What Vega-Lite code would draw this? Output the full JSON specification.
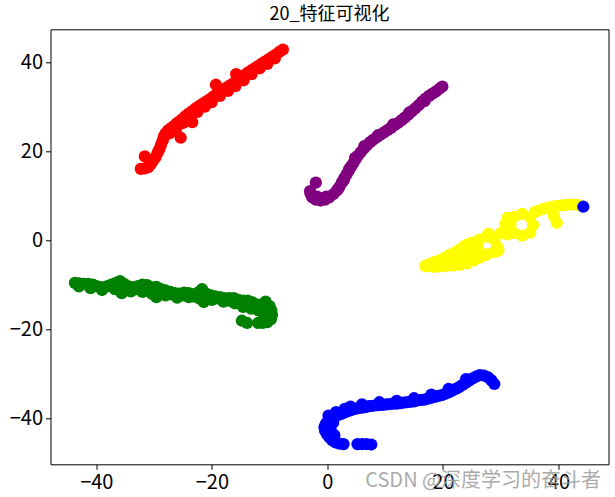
{
"$schema": "https://vega.github.io/schema/vega-lite/v6.json",
"width": 558, "height": 435,
"autosize": {"type": "none"},
"padding": {"left": 50.5, "top": 29.3, "right": 6.5, "bottom": 32.7},
"title": {"text": "20_特征可视化", "font": "Noto Sans CJK SC", "fontSize": 18, "fontWeight": "normal", "color": "#000000", "offset": 5, "anchor": "middle"},
"config": {
  "view": {"stroke": "#000000", "strokeWidth": 1},
  "axis": {"domain": false, "grid": false, "tickColor": "#000000", "tickSize": 5, "tickWidth": 1, "labelFont": "Noto Sans CJK SC", "labelFontSize": 20, "labelColor": "#000000", "labelPadding": 3}
},
"datasets": {
"pts": [
{"c":"green","x":-43.7,"y":-9.6},{"c":"green","x":-43.0,"y":-9.7},{"c":"green","x":-42.2,"y":-9.8},{"c":"green","x":-41.4,"y":-9.8},{"c":"green","x":-40.6,"y":-10.0},{"c":"green","x":-39.8,"y":-10.4},{"c":"green","x":-39.0,"y":-10.6},{"c":"green","x":-38.2,"y":-10.4},{"c":"green","x":-37.4,"y":-10.0},{"c":"green","x":-36.6,"y":-9.6},{"c":"green","x":-35.9,"y":-9.2},{"c":"green","x":-35.2,"y":-9.8},{"c":"green","x":-34.4,"y":-10.4},{"c":"green","x":-33.6,"y":-10.6},{"c":"green","x":-32.8,"y":-10.3},{"c":"green","x":-32.0,"y":-10.0},{"c":"green","x":-31.2,"y":-10.1},{"c":"green","x":-30.4,"y":-10.6},{"c":"green","x":-29.6,"y":-10.5},{"c":"green","x":-28.8,"y":-11.0},{"c":"green","x":-28.0,"y":-11.3},{"c":"green","x":-27.2,"y":-11.6},{"c":"green","x":-26.4,"y":-11.9},{"c":"green","x":-25.6,"y":-12.0},{"c":"green","x":-24.8,"y":-11.8},{"c":"green","x":-24.0,"y":-11.9},{"c":"green","x":-23.2,"y":-12.2},{"c":"green","x":-22.4,"y":-11.8},{"c":"green","x":-21.7,"y":-11.0},{"c":"green","x":-21.0,"y":-12.0},{"c":"green","x":-20.2,"y":-12.4},{"c":"green","x":-19.4,"y":-12.6},{"c":"green","x":-18.6,"y":-12.8},{"c":"green","x":-17.8,"y":-13.0},{"c":"green","x":-17.0,"y":-13.0},{"c":"green","x":-16.2,"y":-13.0},{"c":"green","x":-15.4,"y":-13.4},{"c":"green","x":-14.6,"y":-13.6},{"c":"green","x":-13.8,"y":-13.6},{"c":"green","x":-13.0,"y":-14.0},{"c":"green","x":-12.2,"y":-14.4},{"c":"green","x":-11.4,"y":-14.6},{"c":"green","x":-10.7,"y":-13.8},{"c":"green","x":-10.0,"y":-14.8},{"c":"green","x":-9.7,"y":-15.8},{"c":"green","x":-9.6,"y":-16.8},{"c":"green","x":-9.8,"y":-17.8},{"c":"green","x":-10.4,"y":-18.4},{"c":"green","x":-11.2,"y":-18.6},{"c":"green","x":-12.0,"y":-18.6},{"c":"green","x":-14.8,"y":-18.1},{"c":"green","x":-13.9,"y":-18.6},
{"c":"green","x":-43.0,"y":-10.4},{"c":"green","x":-41.0,"y":-10.8},{"c":"green","x":-39.0,"y":-11.2},{"c":"green","x":-36.8,"y":-11.0},{"c":"green","x":-35.6,"y":-11.9},{"c":"green","x":-34.0,"y":-11.5},{"c":"green","x":-32.0,"y":-11.6},{"c":"green","x":-30.4,"y":-12.0},{"c":"green","x":-29.6,"y":-12.8},{"c":"green","x":-28.0,"y":-12.4},{"c":"green","x":-26.0,"y":-12.9},{"c":"green","x":-24.0,"y":-12.8},{"c":"green","x":-22.0,"y":-13.2},{"c":"green","x":-21.4,"y":-13.9},{"c":"green","x":-20.0,"y":-13.4},{"c":"green","x":-18.0,"y":-13.8},{"c":"green","x":-16.0,"y":-14.2},{"c":"green","x":-14.6,"y":-15.0},{"c":"green","x":-13.2,"y":-15.4},{"c":"green","x":-12.0,"y":-15.7},{"c":"green","x":-10.8,"y":-15.8},{"c":"green","x":-10.9,"y":-17.0},
{"c":"green","x":-37.0,"y":-10.6},{"c":"green","x":-33.0,"y":-11.0},{"c":"green","x":-30.0,"y":-11.4},{"c":"green","x":-27.0,"y":-12.2},{"c":"green","x":-25.0,"y":-12.4},{"c":"green","x":-23.0,"y":-12.7},{"c":"green","x":-19.0,"y":-13.1},{"c":"green","x":-17.0,"y":-13.6},{"c":"green","x":-15.0,"y":-14.2},
{"c":"red","x":-32.3,"y":16.0},{"c":"red","x":-31.6,"y":16.1},{"c":"red","x":-31.0,"y":16.4},{"c":"red","x":-31.6,"y":18.8},{"c":"red","x":-30.6,"y":17.0},{"c":"red","x":-30.2,"y":17.8},{"c":"red","x":-29.8,"y":18.5},{"c":"red","x":-29.4,"y":19.6},{"c":"red","x":-29.1,"y":20.4},{"c":"red","x":-28.8,"y":21.4},{"c":"red","x":-28.5,"y":22.4},{"c":"red","x":-28.3,"y":23.3},{"c":"red","x":-28.0,"y":24.0},{"c":"red","x":-27.6,"y":24.6},{"c":"red","x":-27.1,"y":25.1},{"c":"red","x":-26.6,"y":25.6},{"c":"red","x":-26.1,"y":26.2},{"c":"red","x":-25.6,"y":26.7},{"c":"red","x":-25.1,"y":27.2},{"c":"red","x":-24.6,"y":27.8},{"c":"red","x":-24.0,"y":28.4},{"c":"red","x":-23.4,"y":29.0},{"c":"red","x":-22.8,"y":29.6},{"c":"red","x":-22.2,"y":30.1},{"c":"red","x":-21.6,"y":30.6},{"c":"red","x":-21.0,"y":31.1},{"c":"red","x":-20.4,"y":31.6},{"c":"red","x":-19.8,"y":32.2},{"c":"red","x":-19.2,"y":32.8},{"c":"red","x":-18.6,"y":33.3},{"c":"red","x":-18.0,"y":33.8},{"c":"red","x":-17.4,"y":34.3},{"c":"red","x":-16.8,"y":34.8},{"c":"red","x":-16.2,"y":35.3},{"c":"red","x":-15.6,"y":35.8},{"c":"red","x":-15.0,"y":36.4},{"c":"red","x":-14.4,"y":37.0},{"c":"red","x":-13.8,"y":37.6},{"c":"red","x":-13.2,"y":38.1},{"c":"red","x":-12.6,"y":38.6},{"c":"red","x":-12.0,"y":39.1},{"c":"red","x":-11.4,"y":39.6},{"c":"red","x":-10.8,"y":40.1},{"c":"red","x":-10.2,"y":40.6},{"c":"red","x":-9.6,"y":41.1},{"c":"red","x":-9.0,"y":41.6},{"c":"red","x":-8.4,"y":42.2},{"c":"red","x":-7.7,"y":42.8},
{"c":"red","x":-25.4,"y":23.0},{"c":"red","x":-23.4,"y":26.5},{"c":"red","x":-19.3,"y":34.9},{"c":"red","x":-15.8,"y":37.3},
{"c":"red","x":-27.3,"y":24.0},{"c":"red","x":-26.2,"y":25.0},{"c":"red","x":-25.0,"y":26.3},{"c":"red","x":-23.8,"y":27.6},{"c":"red","x":-22.5,"y":28.8},{"c":"red","x":-21.2,"y":30.0},{"c":"red","x":-20.0,"y":31.0},{"c":"red","x":-18.6,"y":32.4},{"c":"red","x":-17.2,"y":33.5},{"c":"red","x":-15.9,"y":34.6},{"c":"red","x":-14.5,"y":35.9},{"c":"red","x":-13.1,"y":37.3},{"c":"red","x":-11.7,"y":38.6},{"c":"red","x":-10.4,"y":39.6},{"c":"red","x":-9.1,"y":40.8},
{"c":"purple","x":19.9,"y":34.5},{"c":"purple","x":19.4,"y":34.0},{"c":"purple","x":18.8,"y":33.4},{"c":"purple","x":18.2,"y":32.9},{"c":"purple","x":17.6,"y":32.4},{"c":"purple","x":17.0,"y":31.8},{"c":"purple","x":16.4,"y":31.1},{"c":"purple","x":15.8,"y":30.3},{"c":"purple","x":15.2,"y":29.6},{"c":"purple","x":14.6,"y":28.9},{"c":"purple","x":14.0,"y":28.2},{"c":"purple","x":13.4,"y":27.5},{"c":"purple","x":12.8,"y":26.9},{"c":"purple","x":12.2,"y":26.3},{"c":"purple","x":11.6,"y":25.8},{"c":"purple","x":11.0,"y":25.2},{"c":"purple","x":10.4,"y":24.7},{"c":"purple","x":9.8,"y":24.2},{"c":"purple","x":9.2,"y":23.7},{"c":"purple","x":8.6,"y":23.2},{"c":"purple","x":8.0,"y":22.6},{"c":"purple","x":7.4,"y":22.0},{"c":"purple","x":6.8,"y":21.3},{"c":"purple","x":6.3,"y":20.6},{"c":"purple","x":5.8,"y":19.8},{"c":"purple","x":5.3,"y":19.0},{"c":"purple","x":4.9,"y":18.2},{"c":"purple","x":4.5,"y":17.3},{"c":"purple","x":4.1,"y":16.5},{"c":"purple","x":3.7,"y":15.6},{"c":"purple","x":3.3,"y":14.7},{"c":"purple","x":2.9,"y":13.8},{"c":"purple","x":2.5,"y":12.9},{"c":"purple","x":2.1,"y":12.0},{"c":"purple","x":1.6,"y":11.1},{"c":"purple","x":1.0,"y":10.3},{"c":"purple","x":0.3,"y":9.6},{"c":"purple","x":-0.4,"y":9.1},{"c":"purple","x":-1.2,"y":8.9},{"c":"purple","x":-2.0,"y":9.1},{"c":"purple","x":-2.6,"y":9.6},{"c":"purple","x":-2.9,"y":10.4},{"c":"purple","x":-3.0,"y":11.0},{"c":"purple","x":-2.0,"y":12.9},
{"c":"purple","x":16.8,"y":31.2},{"c":"purple","x":14.2,"y":28.7},{"c":"purple","x":11.4,"y":26.0},{"c":"purple","x":8.8,"y":23.6},{"c":"purple","x":6.4,"y":21.1},{"c":"purple","x":4.8,"y":18.5},{"c":"purple","x":3.8,"y":16.0},{"c":"purple","x":2.8,"y":13.4},{"c":"purple","x":1.8,"y":11.4},{"c":"purple","x":-0.2,"y":9.8},{"c":"purple","x":-1.8,"y":9.8},
{"c":"blue","x":28.9,"y":-32.3},{"c":"blue","x":28.4,"y":-31.5},{"c":"blue","x":27.8,"y":-30.8},{"c":"blue","x":27.1,"y":-30.4},{"c":"blue","x":26.4,"y":-30.3},{"c":"blue","x":25.8,"y":-30.6},{"c":"blue","x":25.2,"y":-31.0},{"c":"blue","x":24.6,"y":-31.5},{"c":"blue","x":24.0,"y":-32.0},{"c":"blue","x":23.4,"y":-32.5},{"c":"blue","x":22.8,"y":-33.0},{"c":"blue","x":22.2,"y":-33.4},{"c":"blue","x":21.6,"y":-33.8},{"c":"blue","x":21.0,"y":-34.2},{"c":"blue","x":20.4,"y":-34.5},{"c":"blue","x":19.8,"y":-34.8},{"c":"blue","x":19.2,"y":-35.0},{"c":"blue","x":18.6,"y":-35.2},{"c":"blue","x":18.0,"y":-35.4},{"c":"blue","x":17.4,"y":-35.6},{"c":"blue","x":16.8,"y":-35.8},{"c":"blue","x":16.2,"y":-35.9},{"c":"blue","x":15.6,"y":-36.0},{"c":"blue","x":15.0,"y":-36.2},{"c":"blue","x":14.4,"y":-36.3},{"c":"blue","x":13.8,"y":-36.4},{"c":"blue","x":13.2,"y":-36.5},{"c":"blue","x":12.6,"y":-36.6},{"c":"blue","x":12.0,"y":-36.7},{"c":"blue","x":11.4,"y":-36.7},{"c":"blue","x":10.8,"y":-36.8},{"c":"blue","x":10.2,"y":-36.9},{"c":"blue","x":9.6,"y":-37.0},{"c":"blue","x":9.0,"y":-37.0},{"c":"blue","x":8.4,"y":-37.1},{"c":"blue","x":7.8,"y":-37.2},{"c":"blue","x":7.2,"y":-37.3},{"c":"blue","x":6.6,"y":-37.5},{"c":"blue","x":6.0,"y":-37.6},{"c":"blue","x":5.4,"y":-37.7},{"c":"blue","x":4.8,"y":-37.9},{"c":"blue","x":4.2,"y":-38.1},{"c":"blue","x":3.6,"y":-38.4},{"c":"blue","x":3.0,"y":-38.7},{"c":"blue","x":2.4,"y":-39.0},{"c":"blue","x":1.8,"y":-39.3},{"c":"blue","x":1.2,"y":-39.7},{"c":"blue","x":0.6,"y":-40.1},{"c":"blue","x":0.1,"y":-40.6},{"c":"blue","x":-0.3,"y":-41.3},{"c":"blue","x":-0.5,"y":-42.0},{"c":"blue","x":-0.4,"y":-42.8},{"c":"blue","x":-0.1,"y":-43.5},{"c":"blue","x":0.3,"y":-44.2},{"c":"blue","x":0.8,"y":-44.9},{"c":"blue","x":1.4,"y":-45.4},{"c":"blue","x":2.1,"y":-45.7},{"c":"blue","x":2.8,"y":-45.8},{"c":"blue","x":5.2,"y":-45.8},{"c":"blue","x":6.0,"y":-45.8},{"c":"blue","x":6.8,"y":-45.8},{"c":"blue","x":7.6,"y":-45.9},
{"c":"blue","x":24.0,"y":-31.2},{"c":"blue","x":21.0,"y":-33.4},{"c":"blue","x":18.0,"y":-34.7},{"c":"blue","x":15.0,"y":-35.5},{"c":"blue","x":12.0,"y":-36.1},{"c":"blue","x":9.0,"y":-36.4},{"c":"blue","x":6.0,"y":-36.9},{"c":"blue","x":4.0,"y":-37.4},{"c":"blue","x":3.0,"y":-37.9},{"c":"blue","x":1.5,"y":-38.6},{"c":"blue","x":0.2,"y":-39.4},{"c":"blue","x":1.0,"y":-41.0},{"c":"blue","x":0.6,"y":-42.8},{"c":"blue","x":1.2,"y":-43.8},
{"c":"yellow","x":16.9,"y":-5.8},{"c":"yellow","x":17.6,"y":-5.4},{"c":"yellow","x":18.4,"y":-5.0},{"c":"yellow","x":19.1,"y":-4.7},{"c":"yellow","x":19.8,"y":-4.3},{"c":"yellow","x":20.5,"y":-3.8},{"c":"yellow","x":21.2,"y":-3.3},{"c":"yellow","x":22.0,"y":-2.8},{"c":"yellow","x":22.7,"y":-2.3},{"c":"yellow","x":23.3,"y":-1.8},{"c":"yellow","x":23.8,"y":-1.3},{"c":"yellow","x":24.4,"y":-0.9},{"c":"yellow","x":25.0,"y":-0.6},
{"c":"yellow","x":17.4,"y":-5.9},{"c":"yellow","x":18.4,"y":-6.0},{"c":"yellow","x":19.5,"y":-5.9},{"c":"yellow","x":20.7,"y":-5.8},{"c":"yellow","x":21.9,"y":-5.7},{"c":"yellow","x":23.0,"y":-5.5},{"c":"yellow","x":24.2,"y":-5.2},{"c":"yellow","x":25.3,"y":-4.6},{"c":"yellow","x":26.2,"y":-4.0},{"c":"yellow","x":27.0,"y":-3.5},
{"c":"yellow","x":20.0,"y":-5.0},{"c":"yellow","x":21.0,"y":-4.6},{"c":"yellow","x":22.0,"y":-4.2},{"c":"yellow","x":23.0,"y":-3.8},{"c":"yellow","x":24.0,"y":-3.2},{"c":"yellow","x":24.8,"y":-2.7},{"c":"yellow","x":25.5,"y":-2.2},
{"c":"yellow","x":29.4,"y":-1.5},{"c":"yellow","x":28.9,"y":0.1},{"c":"yellow","x":27.9,"y":1.4},{"c":"yellow","x":27.6,"y":0.8},{"c":"yellow","x":26.3,"y":0.1},{"c":"yellow","x":25.9,"y":-1.5},{"c":"yellow","x":26.3,"y":-2.8},{"c":"yellow","x":27.6,"y":-3.2},{"c":"yellow","x":28.9,"y":-2.7},{"c":"yellow","x":29.6,"y":-2.3},
{"c":"yellow","x":29.9,"y":1.5},{"c":"yellow","x":30.6,"y":1.9},{"c":"yellow","x":31.3,"y":2.2},
{"c":"yellow","x":35.6,"y":3.4},{"c":"yellow","x":35.1,"y":5.1},{"c":"yellow","x":33.7,"y":5.9},{"c":"yellow","x":32.3,"y":5.2},{"c":"yellow","x":31.7,"y":3.4},{"c":"yellow","x":32.3,"y":1.6},{"c":"yellow","x":33.7,"y":1.0},{"c":"yellow","x":35.1,"y":1.7},{"c":"yellow","x":30.8,"y":3.6},{"c":"yellow","x":31.2,"y":5.0},{"c":"yellow","x":31.1,"y":1.3},
{"c":"yellow","x":35.9,"y":6.3},{"c":"yellow","x":36.6,"y":6.7},{"c":"yellow","x":37.4,"y":7.0},{"c":"yellow","x":38.2,"y":7.3},{"c":"yellow","x":39.0,"y":7.5},{"c":"yellow","x":39.8,"y":7.7},{"c":"yellow","x":40.6,"y":7.8},{"c":"yellow","x":41.4,"y":7.9},{"c":"yellow","x":42.2,"y":8.0},{"c":"yellow","x":43.0,"y":8.0},{"c":"yellow","x":43.6,"y":7.8},
{"c":"yellow","x":39.2,"y":5.4},{"c":"yellow","x":39.7,"y":3.9},
{"c":"blue","x":44.3,"y":7.5}
]
},
"data": {"name": "pts"},
"mark": {"type": "circle", "size": 150, "opacity": 1},
"encoding": {
  "x": {"field": "x", "type": "quantitative",
        "scale": {"domain": [-47.93, 48.66], "nice": false, "zero": false},
        "axis": {"values": [-40, -20, 0, 20, 40], "title": "CSDN @深度学习的奋斗者", "titleFont": "Noto Sans CJK SC", "titleFontSize": 20, "titleFontWeight": "normal", "titleColor": "#9a9a9a", "titleOpacity": 0.85, "titleAnchor": "end", "titleAlign": "right", "titleBaseline": "middle", "titleX": 550, "titleY": 16}},
  "y": {"field": "y", "type": "quantitative",
        "scale": {"domain": [-50.34, 47.35], "nice": false, "zero": false},
        "axis": {"values": [-40, -20, 0, 20, 40], "title": null}},
  "color": {"field": "c", "type": "nominal",
            "scale": {"domain": ["red", "purple", "yellow", "green", "blue"], "range": ["#ff0000", "#800080", "#ffff00", "#008000", "#0000ff"]},
            "legend": null}
}
}
